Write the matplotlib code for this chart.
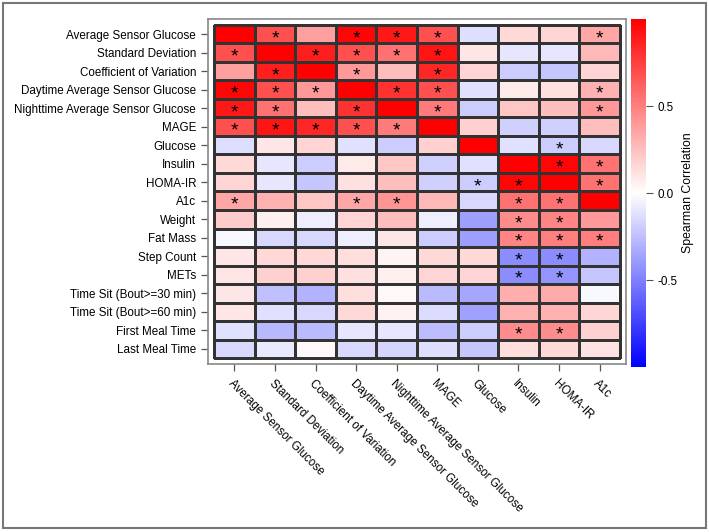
import numpy as np
import matplotlib
matplotlib.use("Agg")
import matplotlib.pyplot as plt
from matplotlib.patches import Rectangle

plt.rcParams["font.family"] = ["Liberation Sans", "DejaVu Sans"]

row_labels = ["Average Sensor Glucose", "Standard Deviation", "Coefficient of Variation",
              "Daytime Average Sensor Glucose", "Nighttime Average Sensor Glucose", "MAGE",
              "Glucose", "Insulin", "HOMA-IR", "A1c", "Weight", "Fat Mass", "Step Count",
              "METs", "Time Sit (Bout>=30 min)", "Time Sit (Bout>=60 min)",
              "First Meal Time", "Last Meal Time"]
col_labels = row_labels[:10]

# Spearman correlations, rows x columns
rho = [
    [1.00, 0.68, 0.37, 0.97, 0.90, 0.68, -0.13, 0.15, 0.17, 0.35],
    [0.68, 1.00, 0.88, 0.68, 0.55, 0.92, 0.10, -0.10, -0.10, 0.28],
    [0.37, 0.88, 1.00, 0.40, 0.25, 0.85, 0.17, -0.20, -0.22, 0.17],
    [0.97, 0.68, 0.40, 1.00, 0.80, 0.68, -0.12, 0.08, 0.12, 0.30],
    [0.90, 0.55, 0.25, 0.80, 1.00, 0.52, -0.20, 0.22, 0.25, 0.40],
    [0.68, 0.92, 0.85, 0.68, 0.52, 1.00, 0.18, -0.18, -0.18, 0.25],
    [-0.13, 0.10, 0.17, -0.12, -0.20, 0.18, 1.00, -0.12, -0.20, -0.15],
    [0.15, -0.10, -0.20, 0.08, 0.22, -0.18, -0.12, 1.00, 0.97, 0.55],
    [0.17, -0.10, -0.22, 0.12, 0.25, -0.18, -0.20, 0.97, 1.00, 0.55],
    [0.35, 0.30, 0.22, 0.35, 0.42, 0.28, -0.15, 0.55, 0.55, 1.00],
    [0.20, 0.06, -0.07, 0.17, 0.25, -0.07, -0.38, 0.45, 0.48, 0.40],
    [-0.03, -0.15, -0.15, -0.07, 0.10, -0.20, -0.38, 0.48, 0.50, 0.50],
    [0.10, 0.15, 0.15, 0.13, 0.04, 0.15, 0.15, -0.45, -0.45, -0.30],
    [0.10, 0.18, 0.18, 0.12, 0.06, 0.17, 0.17, -0.45, -0.42, -0.22],
    [0.10, -0.25, -0.30, 0.13, 0.03, -0.27, -0.35, 0.32, 0.33, -0.03],
    [0.10, -0.12, -0.15, 0.15, 0.05, -0.14, -0.37, 0.30, 0.30, 0.16],
    [-0.12, -0.28, -0.27, -0.10, -0.10, -0.26, -0.20, 0.45, 0.45, 0.18],
    [-0.15, -0.08, 0.03, -0.15, -0.17, -0.13, -0.22, 0.13, 0.15, 0.11],
]

# significant cells (row, column)
sig = [(0, 1), (0, 3), (0, 4), (0, 5), (0, 9),
       (1, 0), (1, 2), (1, 3), (1, 4), (1, 5),
       (2, 1), (2, 3), (2, 5),
       (3, 0), (3, 1), (3, 2), (3, 4), (3, 5), (3, 9),
       (4, 0), (4, 1), (4, 3), (4, 5), (4, 9),
       (5, 0), (5, 1), (5, 2), (5, 3), (5, 4),
       (6, 8), (7, 8), (7, 9), (8, 6), (8, 7), (8, 9),
       (9, 0), (9, 3), (9, 4), (9, 7), (9, 8),
       (10, 7), (10, 8), (11, 7), (11, 8), (11, 9),
       (12, 7), (12, 8), (13, 7), (13, 8), (16, 7), (16, 8)]

data = np.array(rho)
nr, nc = data.shape

fig = plt.figure(figsize=(7.09, 5.32), dpi=100)
ax = fig.add_axes([0.2934, 0.3158, 0.5896, 0.6485])

xe = np.arange(nc + 1) - 0.5
ye = np.arange(nr + 1) - 0.5
mesh = ax.pcolormesh(xe, ye, data, cmap="bwr", vmin=-1, vmax=1,
                     edgecolors="#333333", linewidth=0.9)
for r, c in sig:
    ax.text(c, r + 0.24, "*", ha="center", va="center", fontsize=14, color="black")

ax.set_xlim(-0.65, nc - 0.35)
ax.set_ylim(nr - 0.18, -0.82)
ax.set_xticks(range(nc))
ax.set_yticks(range(nr))
ax.set_yticklabels(row_labels, fontsize=8.4)
ax.set_xticklabels(col_labels, fontsize=8.4, rotation=-45, ha="left", va="top",
                   rotation_mode="anchor")
ax.tick_params(axis="both", length=5, width=0.9, color="#555555")
ax.tick_params(axis="x", pad=5)
for s in ax.spines.values():
    s.set_color("#888888")
    s.set_linewidth(1.2)

cax = fig.add_axes([0.890, 0.310, 0.0205, 0.654])
cb = fig.colorbar(mesh, cax=cax, ticks=[-0.5, 0.0, 0.5], format="%.1f")
cb.outline.set_visible(False)
cax.tick_params(labelsize=8.4, length=5, color="#555555")
cb.set_label("Spearman Correlation", fontsize=8.8, labelpad=3)

fig.patches.append(Rectangle((0.004, 0.008), 0.992, 0.986, transform=fig.transFigure,
                             fill=False, edgecolor="#777777", linewidth=1.5))

fig.savefig("out.png", dpi=100)
